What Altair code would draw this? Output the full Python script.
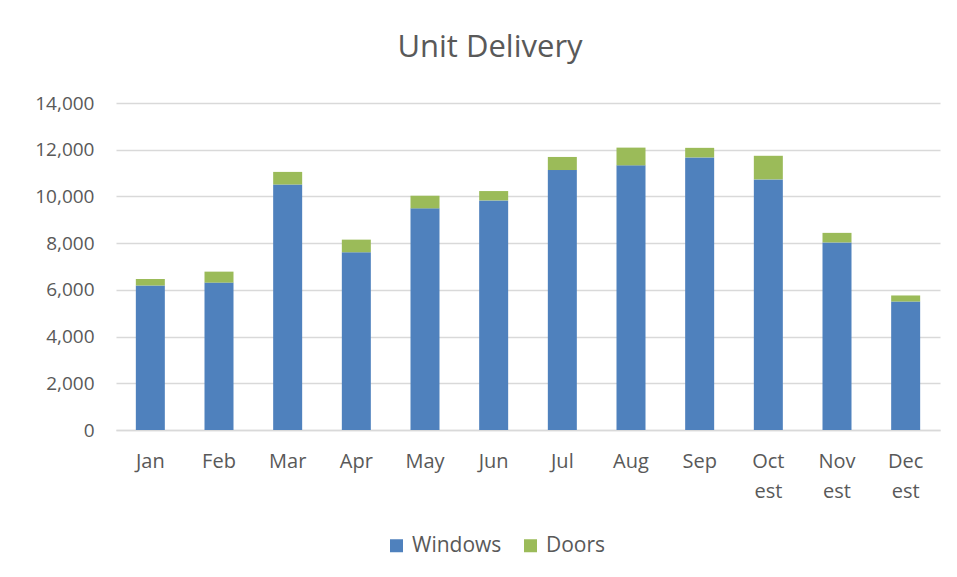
import altair as alt
import pandas as pd

months = ["Jan", "Feb", "Mar", "Apr", "May", "Jun", "Jul", "Aug", "Sep",
          "Oct est", "Nov est", "Dec est"]
windows = [6190, 6310, 10510, 7610, 9490, 9830, 11130, 11330, 11670, 10730, 8030, 5500]
doors = [270, 470, 540, 540, 540, 400, 560, 760, 410, 1010, 410, 260]
series = ["Windows", "Doors"]
colors = ["#4F81BD", "#9BBB59"]

rows = []
for m, w, d in zip(months, windows, doors):
    rows.append({"month": m, "series": "Windows", "value": w, "ord": 0})
    rows.append({"month": m, "series": "Doors", "value": d, "ord": 1})
df = pd.DataFrame(rows)

FONT = "Open Sans"
TXT = "#595959"

chart = alt.Chart(df).mark_bar(size=29).encode(
    x=alt.X("month:N", sort=months, title=None,
            scale=alt.Scale(paddingInner=0.58, paddingOuter=0.29),
            axis=alt.Axis(labelExpr="split(datum.value, ' ')", labelAngle=0,
                          labelFontSize=20, labelColor=TXT, labelFont=FONT,
                          labelPadding=21, labelLineHeight=30, ticks=False,
                          domainColor="#d9d9d9", domainWidth=1.3)),
    y=alt.Y("value:Q", stack="zero", title=None,
            scale=alt.Scale(domain=[0, 14000]),
            axis=alt.Axis(values=list(range(0, 14001, 2000)), format=",.0f",
                          labelFontSize=19, labelColor=TXT, labelFont=FONT,
                          labelPadding=22, ticks=False, domain=False,
                          gridColor="#d9d9d9", gridWidth=1.3)),
    color=alt.Color("series:N", sort=series,
                    scale=alt.Scale(domain=series, range=colors),
                    legend=alt.Legend(title=None, orient="none", direction="horizontal",
                                      legendX=270, legendY=432, symbolType="square",
                                      symbolSize=169, symbolStrokeWidth=0,
                                      labelFontSize=21, labelColor=TXT, labelFont=FONT,
                                      columnPadding=18, labelOffset=5)),
    order=alt.Order("ord:Q"),
).properties(
    width=824, height=327,
    title=alt.TitleParams("Unit Delivery", fontSize=31, font=FONT, color=TXT,
                          fontWeight="normal", anchor="middle", dx=-38, offset=30),
    autosize=alt.AutoSizeParams(type="none"),
    padding={"left": 108, "top": 95, "right": 8, "bottom": 136},
).configure_view(stroke=None)

chart.save("out.html", embed_options={"renderer": "svg", "actions": False})
